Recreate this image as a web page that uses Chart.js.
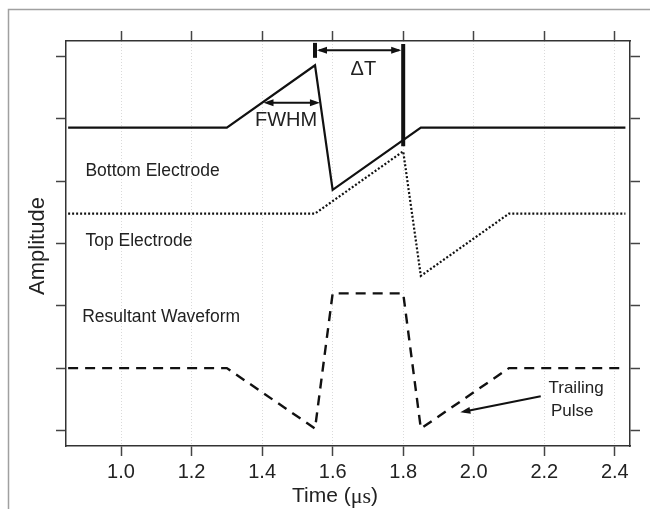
<!DOCTYPE html>
<html>
<head>
<meta charset="utf-8">
<script src="https://cdn.jsdelivr.net/npm/chart.js@4"></script>
<style>
  html, body { margin: 0; padding: 0; background: #fff; }
</style>
</head>
<body>
<canvas id="chart" width="650" height="509"></canvas>
<script>
// Pulse timing sketch: electrode signals and resultant waveform

const xTicks = [1.0, 1.2, 1.4, 1.6, 1.8, 2.0, 2.2, 2.4];
const yTicks = [0, 1, 2, 3, 4, 5, 6];

const bottomTime = [0.85, 1.30, 1.55, 1.60, 1.85, 2.43];
const bottomAmp  = [4.86, 4.86, 5.86, 3.86, 4.86, 4.86];

const topTime = [0.85, 1.55, 1.80, 1.85, 2.10, 2.43];
const topAmp  = [3.48, 3.48, 4.48, 2.48, 3.48, 3.48];

const resultTime = [0.85, 1.30, 1.55, 1.60, 1.80, 1.85, 2.10, 2.43];
const resultAmp  = [1.00, 1.00, 0.03, 2.20, 2.20, 0.03, 1.00, 1.00];

// thick marker at the end of delta T
const markerTime = [1.80, 1.80];
const markerAmp  = [6.20, 4.56];

// arrows, in data units
const dtArrow = { from: 1.55, to: 1.80, amp: 6.10, barTop: 6.22, barBottom: 5.98 };
const fwhmArrow = { from: 1.404, to: 1.564, amp: 5.26 };
const trailArrow = { x1: 2.19, y1: 0.55, x2: 1.962, y2: 0.29 };

const labels = [
    { text: 'Bottom Electrode', x: 0.899, y: 4.16, size: 17.5, align: 'left' },
    { text: 'Top Electrode', x: 0.899, y: 3.03, size: 17.5, align: 'left' },
    { text: 'Resultant Waveform', x: 0.890, y: 1.82, size: 17.5, align: 'left' },
    { text: '\u0394T', x: 1.687, y: 5.79, size: 20, align: 'center' },
    { text: 'FWHM', x: 1.468, y: 4.97, size: 20, align: 'center' },
    { text: 'Trailing', x: 2.290, y: 0.68, size: 17, align: 'center' },
    { text: 'Pulse', x: 2.279, y: 0.31, size: 17, align: 'center' }
];

const FONT = 'Liberation Sans, Arial, sans-serif';
const INK = '#111';

function toPoints(xs, ys) {
    return xs.map((x, i) => ({ x: x, y: ys[i] }));
}

function arrowHead(ctx, x1, y1, x2, y2) {
    // head at (x2, y2)
    const ang = Math.atan2(y2 - y1, x2 - x1);
    const len = 10, half = 3.5;
    ctx.beginPath();
    ctx.moveTo(x2, y2);
    ctx.lineTo(x2 - len * Math.cos(ang) + half * Math.sin(ang), y2 - len * Math.sin(ang) - half * Math.cos(ang));
    ctx.lineTo(x2 - len * Math.cos(ang) - half * Math.sin(ang), y2 - len * Math.sin(ang) + half * Math.cos(ang));
    ctx.closePath();
    ctx.fill();
}

function line(ctx, x1, y1, x2, y2) {
    ctx.beginPath();
    ctx.moveTo(x1, y1);
    ctx.lineTo(x2, y2);
    ctx.stroke();
}

const framePlugin = {
    id: 'frame',
    beforeDraw(chart) {
        const ctx = chart.ctx;
        ctx.save();
        ctx.strokeStyle = '#a0a0a0';
        ctx.lineWidth = 1.5;
        ctx.beginPath();
        ctx.moveTo(650, 9.5);
        ctx.lineTo(8.5, 9.5);
        ctx.lineTo(8.5, 509);
        ctx.stroke();
        ctx.restore();
    },
    afterDraw(chart) {
        const ctx = chart.ctx;
        const sx = chart.scales.x, sy = chart.scales.y;
        const px = v => sx.getPixelForValue(v);
        const py = v => sy.getPixelForValue(v);

        ctx.save();
        ctx.strokeStyle = INK;
        ctx.fillStyle = INK;
        ctx.lineWidth = 2;

        // delta T arrow
        const a1 = px(dtArrow.from), a2 = px(dtArrow.to), ay = py(dtArrow.amp);
        line(ctx, a1 + 4, ay, a2 - 4, ay);
        arrowHead(ctx, a2, ay, a1 + 2, ay);
        arrowHead(ctx, a1, ay, a2 - 2, ay);
        ctx.lineWidth = 4;
        line(ctx, a1, py(dtArrow.barTop), a1, py(dtArrow.barBottom));

        // FWHM arrow
        ctx.lineWidth = 2;
        const f1 = px(fwhmArrow.from), f2 = px(fwhmArrow.to), fy = py(fwhmArrow.amp);
        line(ctx, f1 + 4, fy, f2 - 4, fy);
        arrowHead(ctx, f2, fy, f1, fy);
        arrowHead(ctx, f1, fy, f2, fy);

        // trailing pulse arrow
        const t1x = px(trailArrow.x1), t1y = py(trailArrow.y1);
        const t2x = px(trailArrow.x2), t2y = py(trailArrow.y2);
        line(ctx, t1x, t1y, t2x + 4, t2y + (t1y - t2y) * 4 / (t1x - t2x));
        arrowHead(ctx, t1x, t1y, t2x, t2y);

        // text labels
        ctx.fillStyle = '#222';
        ctx.textBaseline = 'middle';
        labels.forEach(l => {
            ctx.font = l.size + 'px ' + FONT;
            ctx.textAlign = l.align;
            ctx.fillText(l.text, px(l.x), py(l.y));
        });

        // axis titles
        ctx.font = '22px ' + FONT;
        ctx.textAlign = 'center';
        ctx.save();
        ctx.translate(38, 246);
        ctx.rotate(-Math.PI / 2);
        ctx.fillText('Amplitude', 0, 0);
        ctx.restore();

        const part1 = 'Time (', part2 = '\u03bcs', part3 = ')';
        const sans = '21px ' + FONT, serif = '22px Liberation Serif, Times New Roman, serif';
        ctx.font = sans;
        const w1 = ctx.measureText(part1).width, w3 = ctx.measureText(part3).width;
        ctx.font = serif;
        const w2 = ctx.measureText(part2).width;
        let x0 = 335 - (w1 + w2 + w3) / 2;
        ctx.textAlign = 'left';
        ctx.font = sans;
        ctx.fillText(part1, x0, 496);
        ctx.font = serif;
        ctx.fillText(part2, x0 + w1, 497);
        ctx.font = sans;
        ctx.fillText(part3, x0 + w1 + w2, 496);
        ctx.restore();
    }
};

function axisSide(extra) {
    return Object.assign({
        type: 'linear',
        ticks: { display: false },
        grid: { drawOnChartArea: false, tickColor: '#444', tickLength: 10, tickWidth: 1.5 },
        border: { color: '#333', width: 1.5 }
    }, extra);
}

new Chart(document.getElementById('chart'), {
    type: 'scatter',
    data: {
        datasets: [
            {
                label: 'Bottom Electrode',
                data: toPoints(bottomTime, bottomAmp),
                borderColor: INK, borderWidth: 2.2
            },
            {
                label: 'Top Electrode',
                data: toPoints(topTime, topAmp),
                borderColor: INK, borderWidth: 2.2, borderDash: [2, 2]
            },
            {
                label: 'Resultant Waveform',
                data: toPoints(resultTime, resultAmp),
                borderColor: INK, borderWidth: 2.4, borderDash: [10, 7]
            },
            {
                label: 'marker',
                data: toPoints(markerTime, markerAmp),
                borderColor: INK, borderWidth: 4
            }
        ]
    },
    options: {
        responsive: false,
        animation: false,
        showLine: true,
        elements: { point: { radius: 0 }, line: { tension: 0, borderCapStyle: 'butt' } },
        layout: { padding: 0 },
        plugins: { legend: { display: false }, tooltip: { enabled: false } },
        scales: {
            x: {
                type: 'linear', position: 'bottom', min: 0.844, max: 2.443,
                afterBuildTicks: s => { s.ticks = xTicks.map(v => ({ value: v })); },
                ticks: {
                    font: { size: 20, family: FONT }, color: '#222', padding: 4,
                    maxRotation: 0, autoSkip: false, callback: v => v.toFixed(1)
                },
                grid: { color: '#dadada', lineWidth: 1, tickColor: '#444', tickLength: 10, tickWidth: 1.5 },
                border: { color: '#333', width: 1.5, dash: [1, 2] },
                afterFit: s => { s.height = 63; }
            },
            xTop: axisSide({
                position: 'top', min: 0.844, max: 2.443,
                afterBuildTicks: s => { s.ticks = xTicks.map(v => ({ value: v })); },
                afterFit: s => { s.height = 41; }
            }),
            y: axisSide({
                position: 'left', min: -0.25, max: 6.25,
                afterBuildTicks: s => { s.ticks = yTicks.map(v => ({ value: v })); },
                afterFit: s => { s.width = 66; }
            }),
            yRight: axisSide({
                position: 'right', min: -0.25, max: 6.25,
                afterBuildTicks: s => { s.ticks = yTicks.map(v => ({ value: v })); },
                afterFit: s => { s.width = 20; }
            })
        }
    },
    plugins: [framePlugin]
});
</script>
</body>
</html>
